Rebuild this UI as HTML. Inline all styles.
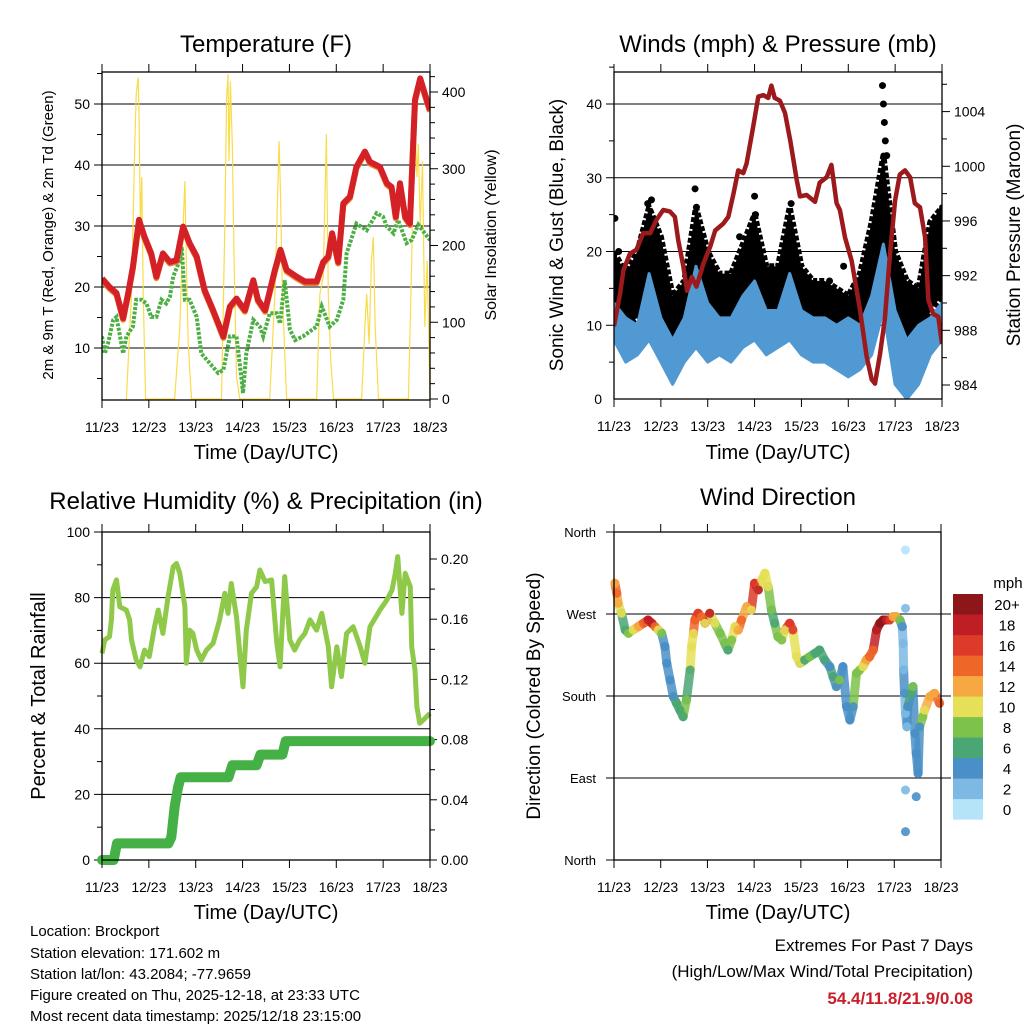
<!DOCTYPE html>
<html><head><meta charset="utf-8">
<style>
html,body{margin:0;padding:0;background:#fff;}
svg{display:block;font-family:"Liberation Sans",sans-serif;}
</style></head>
<body>
<svg id="root" width="1024" height="1024" viewBox="0 0 1024 1024" xmlns="http://www.w3.org/2000/svg">
<rect width="1024" height="1024" fill="#fff"/>
<g font-size="24" text-anchor="middle" fill="#000">
<text x="266" y="52">Temperature (F)</text>
<text x="778" y="52">Winds (mph) &amp; Pressure (mb)</text>
<text x="266" y="509">Relative Humidity (%) &amp; Precipitation (in)</text>
<text x="778" y="505">Wind Direction</text>
</g>
<g font-size="20" text-anchor="middle">
<text x="266" y="459">Time (Day/UTC)</text>
<text x="778" y="459">Time (Day/UTC)</text>
<text x="266" y="919">Time (Day/UTC)</text>
<text x="778" y="919">Time (Day/UTC)</text>
<text font-size="15" transform="translate(53,235) rotate(-90)">2m &amp; 9m T (Red, Orange) &amp; 2m Td (Green)</text>
<text font-size="16" transform="translate(496,235) rotate(-90)">Solar Insolation (Yellow)</text>
<text font-size="19" transform="translate(563,235) rotate(-90)">Sonic Wind &amp; Gust (Blue, Black)</text>
<text font-size="19" transform="translate(1020,235) rotate(-90)">Station Pressure (Maroon)</text>
<text font-size="20" transform="translate(45,696) rotate(-90)">Percent &amp; Total Rainfall</text>
<text font-size="19" transform="translate(540,696) rotate(-90)">Direction (Colored By Speed)</text>
</g>
<g font-size="15">
<text x="30" y="936">Location: Brockport</text>
<text x="30" y="958">Station elevation: 171.602 m</text>
<text x="30" y="979">Station lat/lon: 43.2084; -77.9659</text>
<text x="30" y="1000">Figure created on Thu, 2025-12-18, at 23:33 UTC</text>
<text x="30" y="1021">Most recent data timestamp: 2025/12/18 23:15:00</text>
</g>
<g font-size="17" text-anchor="end">
<text x="973" y="951">Extremes For Past 7 Days</text>
<text x="973" y="977">(High/Low/Max Wind/Total Precipitation)</text>
<text x="973" y="1004" fill="#c8202a" font-weight="bold">54.4/11.8/21.9/0.08</text>
</g>
<g id="plots"></g>
</svg>
<script>
// ---------- data ----------
const dayLabels = ["11/23","12/23","13/23","14/23","15/23","16/23","17/23","18/23"];
const tempT = [0,.16,.31,.45,.56,.66,.79,.91,1.05,1.16,1.30,1.45,1.59,1.73,1.87,2.02,2.19,2.37,2.59,2.73,2.87,3.05,3.23,3.33,3.48,3.69,3.81,3.94,4.15,4.33,4.58,4.72,4.83,4.91,5.04,5.15,5.29,5.43,5.61,5.72,5.93,6.08,6.18,6.27,6.36,6.47,6.57,6.68,6.79,6.89,7.0];
const tempV = [21.4,20.0,19.0,14.9,19.0,23.3,31.0,28.2,25.5,21.7,25.5,24.1,24.4,29.9,27.2,25.0,19.5,16.2,11.9,16.8,18.1,16.2,21.1,17.9,16.2,22.8,26.1,22.8,21.7,20.9,20.9,24.1,25.0,28.8,24.1,33.7,34.8,39.7,42.2,40.5,39.7,37.0,36.4,31.5,37.0,31.5,30.4,50.7,54.2,51.7,49.0];
const dewT = [0,.06,.13,.24,.31,.45,.52,.66,.73,.84,.95,1.05,1.16,1.27,1.37,1.45,1.52,1.66,1.70,1.77,1.87,2.02,2.12,2.30,2.48,2.59,2.73,2.87,2.98,3.01,3.08,3.23,3.37,3.44,3.58,3.73,3.80,3.90,4.01,4.12,4.29,4.58,4.69,4.86,5.01,5.15,5.22,5.43,5.65,5.86,6.00,6.08,6.22,6.32,6.50,6.61,6.75,6.89,7.0];
const dewV = [11.9,9.1,10.8,14.6,15.1,9.1,11.9,13.5,17.9,17.9,17.3,15.1,15.1,17.9,17.3,18.4,21.7,24.4,26.6,17.9,17.9,15.1,9.1,7.5,5.9,6.4,11.9,11.9,4.8,2.6,9.1,14.6,13.5,11.9,15.7,15.7,14.0,21.1,13.0,11.3,11.9,13.5,16.8,13.5,14.6,17.9,25.5,30.4,29.3,32.1,31.5,29.9,28.8,31.0,27.2,27.7,30.2,28.8,27.7];
const solarT = [0.52,0.63,0.70,0.73,0.77,0.79,0.82,0.85,0.88,0.93,1.55,1.66,1.73,1.77,1.80,1.84,1.91,2.55,2.62,2.66,2.69,2.71,2.74,2.78,2.82,2.87,2.94,3.58,3.69,3.74,3.78,3.81,3.85,3.94,4.58,4.65,4.72,4.79,4.83,4.88,4.94,5.54,5.61,5.65,5.70,5.75,5.79,5.83,5.90,6.54,6.61,6.65,6.68,6.72,6.75,6.79,6.84,6.89,6.94,7.0];
const solarV = [0,137,332,397,419,375,224,289,137,0,0,94,224,284,180,72,0,0,224,393,423,310,414,332,180,29,0,0,137,245,336,267,137,0,0,137,159,345,137,51,0,0,94,137,72,180,211,94,0,0,180,310,354,289,332,224,310,94,180,0];
const presT = [0,.13,.20,.34,.48,.62,.77,.91,1.05,1.19,1.30,1.37,1.48,1.56,1.66,1.76,1.91,2.05,2.16,2.33,2.44,2.55,2.65,2.76,2.83,2.97,3.08,3.19,3.29,3.36,3.43,3.54,3.65,3.76,3.90,3.97,4.11,4.29,4.39,4.54,4.64,4.75,4.82,4.93,5.07,5.25,5.39,5.50,5.57,5.68,5.78,5.89,6.00,6.10,6.21,6.32,6.42,6.53,6.64,6.71,6.81,6.92,7.0];
const presV = [988.3,990.7,992.4,993.6,993.9,995.1,995.1,996.1,996.8,996.7,996.3,994.6,992.7,990.9,991.9,991.2,992.9,994.1,995.3,995.8,996.3,998.0,999.7,999.5,1000.2,1002.9,1005.1,1005.2,1005.0,1005.9,1005.0,1004.8,1003.9,1001.9,999.0,997.8,997.9,997.4,998.8,999.2,1000.1,997.3,996.8,994.8,993.1,989.5,986.1,984.4,984.1,986.3,988.8,993.6,997.5,999.4,999.7,999.2,997.3,997.0,994.8,990.2,989.2,989.0,987.0];
const windT = [0,.25,.5,.75,1,1.25,1.5,1.75,2,2.25,2.5,2.75,3,3.25,3.5,3.75,4,4.25,4.5,4.75,5,5.25,5.5,5.75,6,6.25,6.5,6.75,7];
const windHi = [13,11,10,17,11,8,11,18,13,11,11,14,16,12,12,17,12,11,11,10,11,10,14,21,12,8,10,11,13];
const windLo = [8,5,6,8,5,2,5,7,5,6,5,7,8,6,7,8,6,5,5,4,3,4,6,12,2,0,2,6,8];
const gustHi = [20,17,20,26,22,14,16,26,20,17,17,21,25,18,18,26,18,16,16,15,14,17,24,33,20,16,15,24,26];
const gustLo = [10,10,11,14,11,6,8,13,11,10,10,11,14,10,10,13,10,9,8,8,6,8,12,20,12,3,4,12,14];
const gustOutT = [0.02,0.1,0.72,0.8,1.73,1.76,2.68,3.0,3.02,3.78,4.6,4.9,5.73,5.75,5.77,5.79,5.82,6.37,6.4,6.85,6.95];
const gustOutV = [24.5,20,26.5,27,28.5,26,22,27.5,25,26.5,16,18,42.5,40,37.5,35,33,15,13,21,18];
const rhT = [0,.06,.16,.20,.23,.31,.38,.52,.59,.63,.73,.81,.91,1.01,1.12,1.20,1.30,1.41,1.52,1.59,1.66,1.77,1.80,1.87,1.94,2.02,2.12,2.23,2.37,2.51,2.62,2.69,2.76,2.87,2.94,3.01,3.08,3.19,3.30,3.37,3.48,3.62,3.73,3.80,3.90,4.01,4.11,4.22,4.33,4.44,4.58,4.69,4.83,4.90,5.01,5.11,5.22,5.36,5.51,5.61,5.72,5.93,6.08,6.19,6.26,6.31,6.40,6.47,6.58,6.61,6.68,6.72,6.78,6.86,7.0];
const rhV = [63.0,67.1,68.1,73.2,82.3,85.4,77.2,76.2,73.2,67.1,61.0,58.9,64.0,62.0,71.1,76.2,69.1,80.3,89.4,90.4,87.4,77.2,60.0,70.1,69.1,64.0,61.0,64.0,66.1,73.2,81.3,75.2,84.3,74.2,63.0,52.8,70.1,81.3,83.3,88.4,84.9,85.4,66.1,58.9,86.4,67.1,64.0,67.1,69.1,73.2,70.1,75.2,65.0,52.8,65.0,55.9,69.1,71.1,65.0,60.0,71.1,76.2,79.3,82.3,87.4,92.5,75.2,87.4,83.3,65.0,57.9,46.7,41.7,42.7,44.7];
const precT = [0,0.25,0.32,1.42,1.48,1.55,1.62,1.68,2.7,2.78,3.3,3.38,3.85,3.92,7.0];
const precV = [0,0,0.011,0.011,0.015,0.035,0.048,0.055,0.055,0.063,0.063,0.070,0.070,0.079,0.079];
const dirT = [0.02,.06,.09,.16,.24,.31,.41,.52,.63,.73,.81,.88,.95,1.02,1.09,1.13,1.20,1.27,1.34,1.41,1.48,1.55,1.63,1.66,1.70,1.73,1.80,1.87,1.95,2.05,2.16,2.27,2.37,2.44,2.52,2.59,2.66,2.73,2.84,2.94,3.01,3.09,3.16,3.23,3.30,3.37,3.44,3.51,3.59,3.66,3.76,3.83,3.91,3.98,4.08,4.19,4.30,4.40,4.51,4.62,4.69,4.76,4.83,4.90,4.98,5.05,5.12,5.19,5.26,5.33,5.40,5.47,5.55,5.62,5.69,5.76,5.83,5.90,5.97,6.04,6.12,6.17,6.19,6.20,6.22,6.24,6.27,6.29,6.36,6.40,6.44,6.47,6.51,6.54,6.61,6.65,6.76,6.86,6.97,6.24,6.24,6.24,6.24,6.47];
const dirV = [303.7,292.7,281.7,270.8,252.5,248.8,252.5,256.1,259.8,263.4,259.8,256.1,252.5,248.8,234.2,215.9,197.6,179.3,172.0,164.6,157.3,175.6,208.5,234.2,248.8,263.4,270.8,267.1,259.8,270.8,259.8,248.8,237.8,230.5,241.5,256.1,252.5,263.4,278.1,274.4,303.7,296.4,307.3,314.7,300.0,274.4,259.8,245.1,241.5,252.5,259.8,252.5,223.2,215.9,219.5,223.2,226.8,230.5,219.5,212.2,201.2,190.3,197.6,212.2,168.3,153.7,168.3,204.9,208.5,212.2,219.5,223.2,230.5,252.5,259.8,263.4,263.4,263.4,267.1,267.1,263.4,256.1,237.8,208.5,182.9,160.9,146.3,168.3,182.9,190.3,139.0,117.1,95.1,146.3,157.3,164.6,179.3,182.9,172.0,340.3,276.2,76.8,31.1,69.5];
const dirS = [12,14,12,10,6,8,10,12,14,18,18,14,10,8,4,4,4,4,6,6,6,8,6,10,10,14,16,14,10,18,10,8,8,6,8,10,12,14,12,10,16,18,10,10,10,8,6,8,8,10,16,16,10,10,6,8,6,6,6,4,6,4,8,4,4,4,4,8,8,10,12,14,14,18,20,20,18,16,12,12,8,4,2,2,4,2,2,4,6,8,4,4,4,4,8,10,12,12,14,0,2,2,4,4];
const speedBins = ["0","2","4","6","8","10","12","14","16","18","20+"];
const speedColors = ["#b5e3f8","#7db9e3","#4a8fc7","#4aa673","#7cc24b","#e6df58","#f6a943","#ef6629","#de3a29","#bf1e25","#8d1619"];

// ---------- helpers ----------
const NS = "http://www.w3.org/2000/svg";
const root = document.getElementById("plots");
function mk(tag, attrs, name, parent) {
  const e = document.createElementNS(NS, tag);
  for (const k in attrs) e.setAttribute(k, attrs[k]);
  
  
  (parent || root).appendChild(e);
  return e;
}
function txt(x, y, s, anchor, size, name, extra) {
  const t = mk("text", Object.assign({x: x, y: y, "text-anchor": anchor, "font-size": size}, extra || {}), name);
  t.textContent = s;
  return t;
}
function path(pts) { return pts.map((p, i) => (i ? "L" : "M") + p[0].toFixed(1) + " " + p[1].toFixed(1)).join(""); }

function frame(P, pfx) {
  const g = mk("g", {}, pfx + "-axes");
  for (let d = 0; d <= 7; d++) {
    const x = P.x(d);
    mk("line", {x1: x, y1: P.y0 - 8, x2: x, y2: P.y0, stroke: "#000", "stroke-width": 1}, pfx + "-top-tick", g);
    mk("line", {x1: x, y1: P.y1, x2: x, y2: P.y1 + 8, stroke: "#000", "stroke-width": 1}, pfx + "-bottom-tick", g);
    txt(x, P.y1 + 32, dayLabels[d], "middle", 14, pfx + "-x-tick-label");
  }
  mk("rect", {x: P.x0, y: P.y0, width: P.x1 - P.x0, height: P.y1 - P.y0, fill: "none", stroke: "#000", "stroke-width": 1.3}, pfx + "-frame", g);
}

// ---------- Panel 1: temperature ----------
{
  const P = {x0: 102, x1: 430, y0: 72, y1: 400};
  P.x = t => P.x0 + t / 7 * (P.x1 - P.x0);
  const yT = v => 348 - (v - 10) * 6.1;
  const yS = v => 399 - v * 0.7675;
  const cl = mk("clipPath", {id: "c1"}, "p1-clip");
  mk("rect", {x: P.x0, y: P.y0, width: P.x1 - P.x0, height: P.y1 - P.y0}, "p1-clip-rect", cl);
  [10, 20, 30, 40, 50].forEach(v => {
    mk("line", {x1: P.x0 - 8, x2: P.x1, y1: yT(v), y2: yT(v), stroke: "#000", "stroke-width": 1}, "p1-grid-line");
    txt(P.x0 - 12, yT(v) + 5, String(v), "end", 14, "p1-left-tick-label");
  });
  for (let v = 5; v <= 55; v += 5) if (v % 10) mk("line", {x1: P.x0 - 5, x2: P.x0, y1: yT(v), y2: yT(v), stroke: "#000"}, "p1-minor-tick");
  [0, 100, 200, 300, 400].forEach(v => {
    mk("line", {x1: P.x1, x2: P.x1 + 8, y1: yS(v), y2: yS(v), stroke: "#000"}, "p1-right-tick");
    txt(P.x1 + 12, yS(v) + 5, String(v), "start", 14, "p1-right-tick-label");
  });
  for (let v = 20; v <= 420; v += 20) if (v % 100) mk("line", {x1: P.x1, x2: P.x1 + 5, y1: yS(v), y2: yS(v), stroke: "#000"}, "p1-right-minor-tick");
  const g = mk("g", {"clip-path": "url(#c1)"}, "p1-series");
  mk("path", {d: path(solarT.map((t, i) => [P.x(t), yS(solarV[i])])), fill: "none", stroke: "#f9dc4a", "stroke-width": 1.2}, "solar-insolation-line", g);
  mk("path", {d: path(dewT.map((t, i) => [P.x(t), yT(dewV[i])])), fill: "none", stroke: "#4caf44", "stroke-width": 4, "stroke-dasharray": "3 1.5"}, "dewpoint-line", g);
  mk("path", {d: path(tempT.map((t, i) => [P.x(t), yT(tempV[i]) + 1.5])), fill: "none", stroke: "#f08030", "stroke-width": 6, "stroke-linejoin": "round"}, "temp-9m-line", g);
  mk("path", {d: path(tempT.map((t, i) => [P.x(t), yT(tempV[i])])), fill: "none", stroke: "#d42127", "stroke-width": 6, "stroke-linejoin": "round"}, "temp-2m-line", g);
  frame(P, "p1");
}

// ---------- Panel 2: winds & pressure ----------
{
  const P = {x0: 614, x1: 942, y0: 72, y1: 399};
  P.x = t => P.x0 + t / 7 * (P.x1 - P.x0);
  const yW = v => 399 - v * 7.375;
  const yP = p => 385 - (p - 984) * 13.67;
  const cl = mk("clipPath", {id: "c2"}, "p2-clip");
  mk("rect", {x: P.x0, y: P.y0, width: P.x1 - P.x0, height: P.y1 - P.y0}, "p2-clip-rect", cl);
  [0, 10, 20, 30, 40].forEach(v => {
    if (v) mk("line", {x1: P.x0 - 8, x2: P.x1, y1: yW(v), y2: yW(v), stroke: "#000", "stroke-width": 1}, "p2-grid-line");
    txt(P.x0 - 12, yW(v) + 5, String(v), "end", 14, "p2-left-tick-label");
  });
  for (let v = 5; v <= 45; v += 10) mk("line", {x1: P.x0 - 5, x2: P.x0, y1: yW(v), y2: yW(v), stroke: "#000"}, "p2-minor-tick");
  [984, 988, 992, 996, 1000, 1004].forEach(v => {
    mk("line", {x1: P.x1, x2: P.x1 + 8, y1: yP(v), y2: yP(v), stroke: "#000"}, "p2-right-tick");
    txt(P.x1 + 12, yP(v) + 5, String(v), "start", 14, "p2-right-tick-label");
  });
  for (let v = 984; v <= 1006; v += 2) if (v % 4) mk("line", {x1: P.x1, x2: P.x1 + 5, y1: yP(v), y2: yP(v), stroke: "#000"}, "p2-right-minor-tick");
  const g = mk("g", {"clip-path": "url(#c2)"}, "p2-series");
  const gustBand = windT.map((t, i) => [P.x(t), yW(gustHi[i])]).concat(windT.map((t, i) => [P.x(t), yW(gustLo[i])]).reverse());
  mk("path", {d: path(gustBand) + "Z", fill: "#000", stroke: "#000", "stroke-width": 6, "stroke-linejoin": "round", "stroke-dasharray": "5 2"}, "gust-dots-band", g);
  gustOutT.forEach((t, i) => mk("circle", {cx: P.x(t), cy: yW(gustOutV[i]), r: 3.5, fill: "#000"}, "gust-dot", g));
  const windBand = windT.map((t, i) => [P.x(t), yW(windHi[i])]).concat(windT.map((t, i) => [P.x(t), yW(windLo[i])]).reverse());
  mk("path", {d: path(windBand) + "Z", fill: "#5199d3", stroke: "#5199d3", "stroke-width": 3, "stroke-linejoin": "round"}, "sonic-wind-band", g);
  mk("path", {d: path(presT.map((t, i) => [P.x(t), yP(presV[i])])), fill: "none", stroke: "#9c1a1c", "stroke-width": 4.5, "stroke-linejoin": "round"}, "pressure-line", g);
  frame(P, "p2");
}

// ---------- Panel 3: RH & precipitation ----------
{
  const P = {x0: 102, x1: 430, y0: 532, y1: 860};
  P.x = t => P.x0 + t / 7 * (P.x1 - P.x0);
  const yR = v => 860 - v * 3.28;
  const yQ = v => 860 - v * 1505;
  const cl = mk("clipPath", {id: "c3"}, "p3-clip");
  mk("rect", {x: P.x0 - 6, y: P.y0, width: P.x1 - P.x0 + 12, height: P.y1 - P.y0 + 6}, "p3-clip-rect", cl);
  [0, 20, 40, 60, 80, 100].forEach(v => {
    if (v && v < 100) mk("line", {x1: P.x0 - 8, x2: P.x1, y1: yR(v), y2: yR(v), stroke: "#000", "stroke-width": 1}, "p3-grid-line");
    else mk("line", {x1: P.x0 - 8, x2: P.x0, y1: yR(v), y2: yR(v), stroke: "#000"}, "p3-left-tick");
    txt(P.x0 - 12, yR(v) + 5, String(v), "end", 14, "p3-left-tick-label");
  });
  for (let v = 10; v <= 90; v += 20) mk("line", {x1: P.x0 - 5, x2: P.x0, y1: yR(v), y2: yR(v), stroke: "#000"}, "p3-minor-tick");
  ["0.00", "0.04", "0.08", "0.12", "0.16", "0.20"].forEach(s => {
    const v = parseFloat(s);
    mk("line", {x1: P.x1, x2: P.x1 + 7, y1: yQ(v), y2: yQ(v), stroke: "#000"}, "p3-right-tick");
    txt(P.x1 + 11, yQ(v) + 5, s, "start", 14, "p3-right-tick-label");
  });
  for (let v = 0.02; v <= 0.22; v += 0.04) mk("line", {x1: P.x1, x2: P.x1 + 5, y1: yQ(v), y2: yQ(v), stroke: "#000"}, "p3-right-minor-tick");
  const g = mk("g", {"clip-path": "url(#c3)"}, "p3-series");
  mk("path", {d: path(rhT.map((t, i) => [P.x(t), yR(rhV[i])])), fill: "none", stroke: "#8fc94a", "stroke-width": 5, "stroke-linejoin": "round"}, "relative-humidity-line", g);
  mk("path", {d: path(precT.map((t, i) => [P.x(t), yQ(precV[i])])), fill: "none", stroke: "#45b045", "stroke-width": 10, "stroke-linejoin": "round", "stroke-linecap": "round"}, "precipitation-line", g);
  frame(P, "p3");
}

// ---------- Panel 4: wind direction ----------
{
  const P = {x0: 614, x1: 941, y0: 532, y1: 860};
  P.x = t => P.x0 + t / 7 * (P.x1 - P.x0);
  const yD = v => 860 - v / 360 * 328;
  const dirNames = ["North", "East", "South", "West", "North"];
  [0, 90, 180, 270, 360].forEach((v, i) => {
    mk("line", {x1: P.x0 - 8, x2: P.x1 + (v % 360 ? 10 : 0), y1: yD(v), y2: yD(v), stroke: "#000", "stroke-width": 1}, "p4-grid-line");
    txt(P.x0 - 18, yD(v) + 5, dirNames[i], "end", 13, "p4-direction-label");
  });
  const g = mk("g", {}, "p4-series");
  const colorOf = s => speedColors[Math.min(10, Math.round(s / 2))];
  for (let i = 1; i < dirT.length; i++) {
    const dt = dirT[i] - dirT[i - 1];
    if (dt > 0 && dt < 0.12) {
      const seg = mk("line", {x1: P.x(dirT[i - 1]), y1: yD(dirV[i - 1]), x2: P.x(dirT[i]), y2: yD(dirV[i]), stroke: colorOf(dirS[i]), "stroke-width": 9, "stroke-linecap": "round", "stroke-opacity": 0.85}, "wind-direction-segment", g);
    }
  }
  dirT.forEach((t, i) => {
    mk("circle", {cx: P.x(t), cy: yD(dirV[i]), r: 4.5, fill: colorOf(dirS[i]), "fill-opacity": 0.9}, "wind-direction-point", g);
  });
  frame(P, "p4");
  const cb = mk("g", {}, "speed-colorbar");
  txt(1008, 588, "mph", "middle", 15, "colorbar-title");
  speedBins.forEach((s, i) => {
    const k = 10 - i;
    const y = 594 + k * 20.5;
    mk("rect", {x: 953, y: y, width: 30, height: 20.6, fill: speedColors[i]}, "colorbar-swatch", cb);
    txt(1007, y + 16, s, "middle", 15, "colorbar-label");
  });
}
</script>
</body></html>
